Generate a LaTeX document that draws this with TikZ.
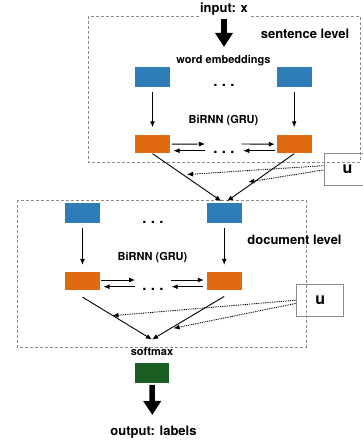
\documentclass[tikz,border=0pt]{standalone}
\usepackage{fontspec}
\setmainfont{TeX Gyre Heros}
\usetikzlibrary{arrows.meta}
\pgfdeclarelayer{bg}
\pgfsetlayers{bg,main}
\definecolor{embblue}{HTML}{2F7DB6}
\definecolor{rnnorange}{HTML}{E06A12}
\definecolor{smgreen}{HTML}{1B5E24}
\definecolor{boxgray}{HTML}{8C8C8C}
\tikzset{
  emb/.style={rectangle, fill=embblue, minimum width=35pt, minimum height=20pt, inner sep=0pt},
  rnn/.style={rectangle, fill=rnnorange, minimum width=35pt, minimum height=18.5pt, inner sep=0pt},
  soft/.style={rectangle, fill=smgreen, minimum width=34pt, minimum height=19.5pt, inner sep=0pt},
  ctx/.style={rectangle, draw=boxgray, line width=1pt, minimum width=47pt, minimum height=31.7pt,
    font=\bfseries\fontsize{16}{16}\selectfont},
  lbl/.style={inner sep=0pt, anchor=base, font=\bfseries\fontsize{11}{11}\selectfont},
  big/.style={inner sep=0pt, anchor=base, font=\bfseries\fontsize{13}{13}\selectfont},
  dotrow/.style={inner sep=0pt, anchor=base, font=\bfseries\fontsize{15}{15}\selectfont},
  arr/.style={-{Latex[length=6pt,width=5pt]}, line width=0.9pt},
  att/.style={-{Latex[length=6pt,width=5pt]}, line width=0.9pt, dash pattern=on 0.9pt off 0.9pt},
  fat/.style={-{Triangle[length=14pt,width=17pt]}, line width=5.5pt},
  level/.style={draw=boxgray, line width=0.8pt, dash pattern=on 3pt off 2pt},
}
\newcommand{\threedots}{.\hspace{4.4pt}.\hspace{4.4pt}.}

\begin{document}
\begin{tikzpicture}
        \useasboundingbox (0pt, 0pt) rectangle (362pt, -441pt);
        % sentence level
        \node (inp) [big, fill=white, inner sep=1.5pt] at (224pt, -13pt) {input: x};
        \node (slv) [big] at (305pt, -39pt) {sentence level};
        \node (wemb) [lbl] at (223.5pt, -64pt) {word embeddings};
        \node (e1) [emb] at (152.5pt, -76.7pt) {};
        \node (e2) [emb] at (294.2pt, -76.7pt) {};
        \node (edots) [dotrow] at (224pt, -86.5pt) {\threedots};
        \node (srnn) [lbl] at (223.5pt, -124pt) {BiRNN (GRU)};
        \node (h1) [rnn] at (152.5pt, -144.2pt) {};
        \node (h2) [rnn] at (294.2pt, -144.2pt) {};
        \node (hdots) [dotrow] at (224pt, -153.5pt) {\threedots};
        \node (ut) [ctx] at (347.5pt, -169.2pt) {u};
        \coordinate (xtop) at (224pt, -19pt);
        \coordinate (xbot) at (224pt, -47pt);
        \coordinate (f1) at (205pt, -144pt);
        \coordinate (b1) at (205pt, -150.7pt);
        \coordinate (f2) at (241.7pt, -144pt);
        \coordinate (b2) at (243.3pt, -150.7pt);
        \coordinate (p1) at (187pt, -174.5pt);
        \coordinate (p2) at (248.3pt, -182pt);
        % document level
        \node (d1) [emb] at (82.5pt, -213.3pt) {};
        \node (d2) [emb] at (224.2pt, -213.3pt) {};
        \node (ddots) [dotrow] at (153pt, -223pt) {\threedots};
        \node (dlv) [big] at (294.5pt, -244pt) {document level};
        \node (drnn) [lbl] at (152.5pt, -260pt) {BiRNN (GRU)};
        \node (g1) [rnn] at (82.5pt, -281pt) {};
        \node (g2) [rnn] at (224.2pt, -281pt) {};
        \node (gdots) [dotrow] at (153pt, -290.5pt) {\threedots};
        \node (ud) [ctx] at (320.3pt, -300.2pt) {u};
        \node (sm) [soft, label={[lbl, anchor=south, label distance=7pt]above:softmax}] at (152pt, -373pt) {};
        \node (outp) [big] at (153.5pt, -435pt) {output: labels};
        \coordinate (f3) at (135pt, -280pt);
        \coordinate (b3) at (135pt, -286.7pt);
        \coordinate (f4) at (170.7pt, -280pt);
        \coordinate (b4) at (171.7pt, -286.7pt);
        \coordinate (p3) at (112.5pt, -315.7pt);
        \coordinate (p4) at (173.5pt, -328.3pt);
        \coordinate (cv) at (152pt, -339.5pt);
        \coordinate (yout) at (152.3pt, -415pt);
        \begin{pgfonlayer}{bg}
                \draw [level] (88pt, -16pt) rectangle (360pt, -162pt);
                \draw [level] (17pt, -200pt) rectangle (306pt, -347pt);
                \draw (xtop) edge [fat] (xbot);
                \draw (e1) edge [arr, shorten <=5.5pt, shorten >=7.5pt] (h1);
                \draw (e2) edge [arr, shorten <=5.5pt, shorten >=7.5pt] (h2);
                \draw ([xshift=1.7pt]h1.east) edge [arr] (f1);
                \draw (b1) edge [arr] ([xshift=3.3pt, yshift=-6.5pt]h1.east);
                \draw (f2) edge [arr] ([xshift=-1.7pt]h2.west);
                \draw ([xshift=-1.7pt, yshift=-6.5pt]h2.west) edge [arr] (b2);
                \draw (h1.south) edge [arr, shorten >=3.5pt] (d2.north);
                \draw (h2.south) edge [arr, shorten >=3.5pt] (d2.north);
                \draw ([yshift=3.5pt]ut.west) edge [att] (p1);
                \draw ([yshift=-0.8pt]ut.west) edge [att] (p2);
                \draw (d1) edge [arr, shorten <=4.5pt, shorten >=6.7pt] (g1);
                \draw (d2) edge [arr, shorten <=4.5pt, shorten >=6.7pt] (g2);
                \draw ([xshift=1pt, yshift=1pt]g1.east) edge [arr] (f3);
                \draw (b3) edge [arr] ([xshift=3.3pt, yshift=-5.7pt]g1.east);
                \draw (f4) edge [arr] ([xshift=-2.7pt, yshift=1pt]g2.west);
                \draw ([xshift=-3.4pt, yshift=-5.7pt]g2.west) edge [arr] (b4);
                \draw ([yshift=-6.7pt]g1.south) edge [arr] (cv);
                \draw ([yshift=-6pt]g2.south) edge [arr] (cv);
                \draw (ud.west) edge [att] (p3);
                \draw ([yshift=-3.1pt]ud.west) edge [att] (p4);
                \draw (sm) edge [fat, shorten <=2pt] (yout);
        \end{pgfonlayer}
\end{tikzpicture}
\end{document}
